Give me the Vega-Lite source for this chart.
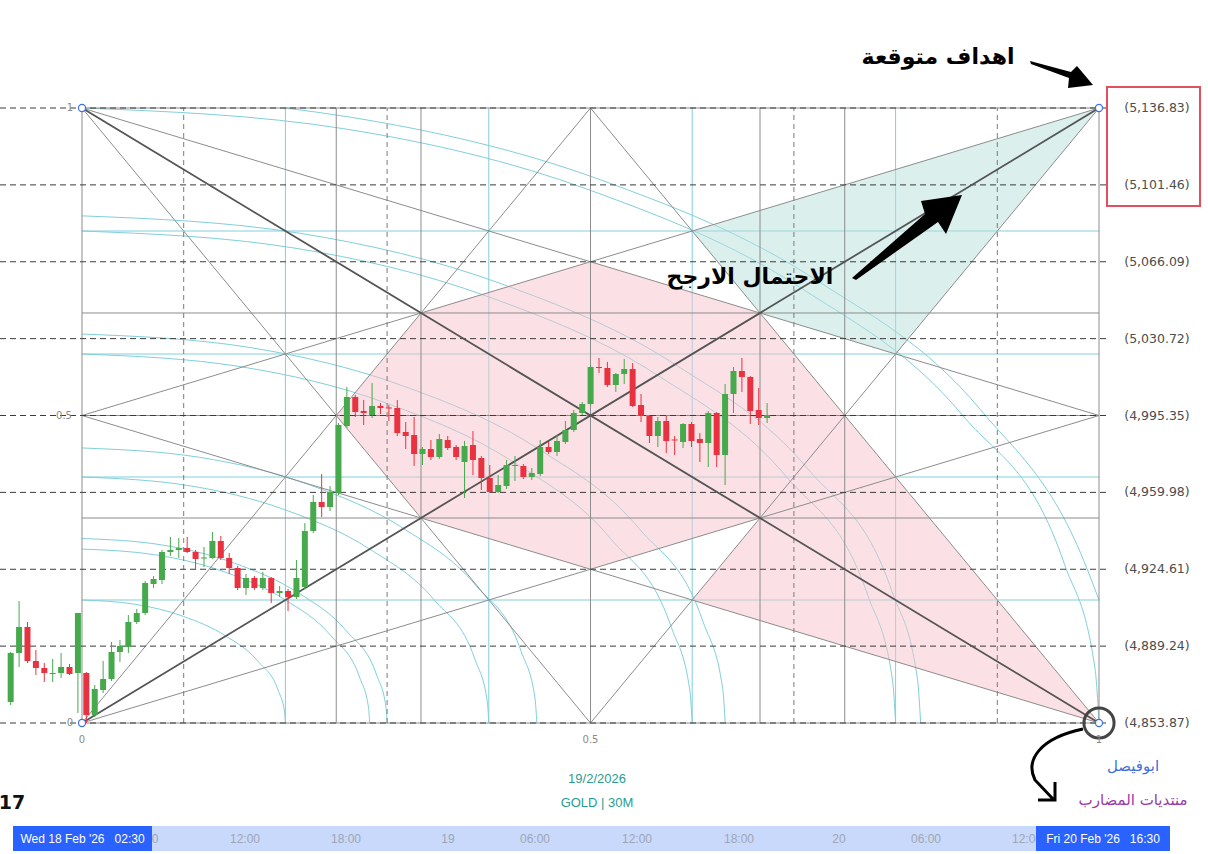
{
"$schema": "https://vega.github.io/schema/vega-lite/v6.json",
"width": 1208, "height": 854, "padding": 0, "autosize": {"type": "none"},
"background": "#ffffff",
"config": {"view": {"stroke": null}},
"resolve": {"scale": {"x": "independent", "y": "independent"}},
"layer": [
{"data": {"values": [
 {"u":0,"u2":1,"v":0.2,"v2":0.2},{"u":0,"u2":1,"v":0.4,"v2":0.4},{"u":0,"u2":1,"v":0.6,"v2":0.6},{"u":0,"u2":1,"v":0.8,"v2":0.8},
 {"u":0.2,"u2":0.2,"v":0,"v2":1},{"u":0.4,"u2":0.4,"v":0,"v2":1},{"u":0.6,"u2":0.6,"v":0,"v2":1},{"u":0.8,"u2":0.8,"v":0,"v2":1}]},
 "mark": {"type": "rule", "color": "#80cfda", "strokeWidth": 1},
 "encoding": {"x": {"field":"u","type":"quantitative","scale":{"domain":[-0.080629,1.107178],"nice":false,"zero":false},"axis":null},"x2":{"field":"u2"},
  "y": {"field":"v","type":"quantitative","scale":{"domain":[-0.213008,1.17561],"nice":false,"zero":false},"axis":null},"y2":{"field":"v2"}}},
{"data": {"values": [
 {"r":"a1","u":0.2,"v":0},{"r":"a1","u":0.19924,"v":0.01743},{"r":"a1","u":0.19319,"v":0.05176},{"r":"a1","u":0.17321,"v":0.1},{"r":"a1","u":0.14142,"v":0.14142},{"r":"a1","u":0.1,"v":0.17321},{"r":"a1","u":0.05176,"v":0.19319},{"r":"a1","u":0,"v":0.2},
 {"r":"a2","u":0.28284,"v":0},{"r":"a2","u":0.28176,"v":0.02465},{"r":"a2","u":0.27321,"v":0.07321},{"r":"a2","u":0.24495,"v":0.14142},{"r":"a2","u":0.2,"v":0.2},{"r":"a2","u":0.14142,"v":0.24495},{"r":"a2","u":0.07321,"v":0.27321},{"r":"a2","u":0,"v":0.28284},
 {"r":"a3","u":0.3,"v":0},{"r":"a3","u":0.29886,"v":0.02615},{"r":"a3","u":0.28978,"v":0.07765},{"r":"a3","u":0.25981,"v":0.15},{"r":"a3","u":0.21213,"v":0.21213},{"r":"a3","u":0.15,"v":0.25981},{"r":"a3","u":0.07765,"v":0.28978},{"r":"a3","u":0,"v":0.3},
 {"r":"a4","u":0.4,"v":0},{"r":"a4","u":0.39848,"v":0.03486},{"r":"a4","u":0.38637,"v":0.10353},{"r":"a4","u":0.34641,"v":0.2},{"r":"a4","u":0.28284,"v":0.28284},{"r":"a4","u":0.2,"v":0.34641},{"r":"a4","u":0.10353,"v":0.38637},{"r":"a4","u":0,"v":0.4},
 {"r":"a5","u":0.44721,"v":0},{"r":"a5","u":0.44551,"v":0.03898},{"r":"a5","u":0.43197,"v":0.11575},{"r":"a5","u":0.3873,"v":0.22361},{"r":"a5","u":0.31623,"v":0.31623},{"r":"a5","u":0.22361,"v":0.3873},{"r":"a5","u":0.11575,"v":0.43197},{"r":"a5","u":0,"v":0.44721},
 {"r":"a6","u":0.6,"v":0},{"r":"a6","u":0.59772,"v":0.05229},{"r":"a6","u":0.57956,"v":0.15529},{"r":"a6","u":0.51962,"v":0.3},{"r":"a6","u":0.42426,"v":0.42426},{"r":"a6","u":0.3,"v":0.51962},{"r":"a6","u":0.15529,"v":0.57956},{"r":"a6","u":0,"v":0.6},
 {"r":"a7","u":0.63246,"v":0},{"r":"a7","u":0.63005,"v":0.05512},{"r":"a7","u":0.61091,"v":0.16369},{"r":"a7","u":0.54773,"v":0.31623},{"r":"a7","u":0.44721,"v":0.44721},{"r":"a7","u":0.31623,"v":0.54773},{"r":"a7","u":0.16369,"v":0.61091},{"r":"a7","u":0,"v":0.63246},
 {"r":"a8","u":0.8,"v":0},{"r":"a8","u":0.79695,"v":0.06973},{"r":"a8","u":0.77274,"v":0.20706},{"r":"a8","u":0.69282,"v":0.4},{"r":"a8","u":0.56569,"v":0.56569},{"r":"a8","u":0.4,"v":0.69282},{"r":"a8","u":0.20706,"v":0.77274},{"r":"a8","u":0,"v":0.8},
 {"r":"a9","u":0.82462,"v":0},{"r":"a9","u":0.82148,"v":0.07187},{"r":"a9","u":0.79653,"v":0.21343},{"r":"a9","u":0.71414,"v":0.41231},{"r":"a9","u":0.5831,"v":0.5831},{"r":"a9","u":0.41231,"v":0.71414},{"r":"a9","u":0.21343,"v":0.79653},{"r":"a9","u":0,"v":0.82462},
 {"r":"b1","u":1,"v":0},{"r":"b1","u":0.99619,"v":0.08716},{"r":"b1","u":0.96593,"v":0.25882},{"r":"b1","u":0.86603,"v":0.5},{"r":"b1","u":0.70711,"v":0.70711},{"r":"b1","u":0.5,"v":0.86603},{"r":"b1","u":0.25882,"v":0.96593},{"r":"b1","u":0,"v":1},
 {"r":"b2","u":1,"v":0.2},{"r":"b2","u":0.98506,"v":0.26394},{"r":"b2","u":0.88318,"v":0.5099},{"r":"b2","u":0.72111,"v":0.72111},{"r":"b2","u":0.5099,"v":0.88318},{"r":"b2","u":0.26394,"v":0.98506},{"r":"b2","u":0.2,"v":1}]},
 "mark": {"type": "line", "color": "#80cfda", "strokeWidth": 1, "interpolate": "monotone"},
 "encoding": {"x": {"field":"u","type":"quantitative","scale":{"domain":[-0.080629,1.107178],"nice":false,"zero":false},"axis":null},
  "y": {"field":"v","type":"quantitative","scale":{"domain":[-0.213008,1.17561],"nice":false,"zero":false},"axis":null},
  "detail": {"field":"r"}}},
{"data": {"values": [
 {"piece":"a","u":0.25,"lo":0.5,"hi":0.5},{"piece":"a","u":0.33333,"lo":0.33333,"hi":0.66667},{"piece":"a","u":0.5,"lo":0.25,"hi":0.75},{"piece":"a","u":0.66667,"lo":0.33333,"hi":0.66667},{"piece":"a","u":0.75,"lo":0.5,"hi":0.5},
 {"piece":"b","u":0.6,"lo":0.2,"hi":0.2},{"piece":"b","u":0.75,"lo":0.125,"hi":0.5},{"piece":"b","u":1,"lo":0,"hi":0}]},
 "mark": {"type": "area", "color": "#f7c4cb", "opacity": 0.5, "orient": "vertical"},
 "encoding": {"x": {"field":"u","type":"quantitative","scale":{"domain":[-0.080629,1.107178],"nice":false,"zero":false},"axis":null},
  "y": {"field":"lo","type":"quantitative","scale":{"domain":[-0.213008,1.17561],"nice":false,"zero":false},"axis":null},"y2":{"field":"hi"},
  "detail": {"field":"piece"}}},
{"data": {"values": [
 {"u":0.6,"lo":0.8,"hi":0.8},{"u":0.66667,"lo":0.66667,"hi":0.83333},{"u":0.8,"lo":0.6,"hi":0.9},{"u":1,"lo":1,"hi":1}]},
 "mark": {"type": "area", "color": "#b7dfdb", "opacity": 0.5, "orient": "vertical"},
 "encoding": {"x": {"field":"u","type":"quantitative","scale":{"domain":[-0.080629,1.107178],"nice":false,"zero":false},"axis":null},
  "y": {"field":"lo","type":"quantitative","scale":{"domain":[-0.213008,1.17561],"nice":false,"zero":false},"axis":null},"y2":{"field":"hi"}}},
{"data": {"values": [
 {"u":0,"u2":1,"v":0,"v2":0},{"u":0,"u2":1,"v":0.33333,"v2":0.33333},{"u":0,"u2":1,"v":0.5,"v2":0.5},{"u":0,"u2":1,"v":0.66667,"v2":0.66667},{"u":0,"u2":1,"v":1,"v2":1},
 {"u":0,"u2":0,"v":0,"v2":1},{"u":0.25,"u2":0.25,"v":0,"v2":1},{"u":0.33333,"u2":0.33333,"v":0,"v2":1},{"u":0.5,"u2":0.5,"v":0,"v2":1},{"u":0.66667,"u2":0.66667,"v":0,"v2":1},{"u":0.75,"u2":0.75,"v":0,"v2":1},{"u":1,"u2":1,"v":0,"v2":1},
 {"u":0,"u2":1,"v":0,"v2":0.5},{"u":0,"u2":0.5,"v":0,"v2":1},{"u":0,"u2":1,"v":1,"v2":0.5},{"u":0,"u2":0.5,"v":1,"v2":0},
 {"u":1,"u2":0,"v":1,"v2":0.5},{"u":1,"u2":0.5,"v":1,"v2":0},{"u":1,"u2":0,"v":0,"v2":0.5},{"u":1,"u2":0.5,"v":0,"v2":1}]},
 "mark": {"type": "rule", "color": "#8c8c8c", "strokeWidth": 1},
 "encoding": {"x": {"field":"u","type":"quantitative","scale":{"domain":[-0.080629,1.107178],"nice":false,"zero":false},"axis":null},"x2":{"field":"u2"},
  "y": {"field":"v","type":"quantitative","scale":{"domain":[-0.213008,1.17561],"nice":false,"zero":false},"axis":null},"y2":{"field":"v2"}}},
{"data": {"values": [
 {"u":0.1,"u2":0.1,"v":0,"v2":1},{"u":0.3,"u2":0.3,"v":0,"v2":1},{"u":0.7,"u2":0.7,"v":0,"v2":1},{"u":0.9,"u2":0.9,"v":0,"v2":1}]},
 "mark": {"type": "rule", "color": "#7a7a7a", "strokeWidth": 1, "strokeDash": [5, 4]},
 "encoding": {"x": {"field":"u","type":"quantitative","scale":{"domain":[-0.080629,1.107178],"nice":false,"zero":false},"axis":null},"x2":{"field":"u2"},
  "y": {"field":"v","type":"quantitative","scale":{"domain":[-0.213008,1.17561],"nice":false,"zero":false},"axis":null},"y2":{"field":"v2"}}},
{"data": {"values": [
 {"u":-0.080629,"u2":1.0079,"v":0,"v2":0},{"u":-0.080629,"u2":1.0079,"v":0.125,"v2":0.125},{"u":-0.080629,"u2":1.0079,"v":0.25,"v2":0.25},{"u":-0.080629,"u2":1.0079,"v":0.375,"v2":0.375},{"u":-0.080629,"u2":1.0079,"v":0.5,"v2":0.5},
 {"u":-0.080629,"u2":1.0079,"v":0.625,"v2":0.625},{"u":-0.080629,"u2":1.0079,"v":0.75,"v2":0.75},{"u":-0.080629,"u2":1.0079,"v":0.875,"v2":0.875},{"u":-0.080629,"u2":1.0079,"v":1,"v2":1}]},
 "mark": {"type": "rule", "color": "#3c3c3c", "strokeWidth": 1, "strokeDash": [6, 4]},
 "encoding": {"x": {"field":"u","type":"quantitative","scale":{"domain":[-0.080629,1.107178],"nice":false,"zero":false},"axis":null},"x2":{"field":"u2"},
  "y": {"field":"v","type":"quantitative","scale":{"domain":[-0.213008,1.17561],"nice":false,"zero":false},"axis":null},"y2":{"field":"v2"}}},
{"data": {"values": [{"u":0,"u2":1,"v":0,"v2":1},{"u":0,"u2":1,"v":1,"v2":0}]},
 "mark": {"type": "rule", "color": "#545454", "strokeWidth": 1.8},
 "encoding": {"x": {"field":"u","type":"quantitative","scale":{"domain":[-0.080629,1.107178],"nice":false,"zero":false},"axis":null},"x2":{"field":"u2"},
  "y": {"field":"v","type":"quantitative","scale":{"domain":[-0.213008,1.17561],"nice":false,"zero":false},"axis":null},"y2":{"field":"v2"}}},
{"layer": [
 {"mark": {"type": "rule", "strokeWidth": 1},
  "encoding": {"x": {"field":"i","type":"quantitative","scale":{"domain":[-9.6755,132.8614],"nice":false,"zero":false},"axis":null},
   "y": {"field":"low","type":"quantitative","scale":{"domain":[4793.6,5186.52],"nice":false,"zero":false},"axis":null},"y2":{"field":"high"},
   "color": {"condition": {"test": "datum.close >= datum.open", "value": "#46a94c"}, "value": "#e8323f"}}},
 {"mark": {"type": "bar", "size": 6},
  "encoding": {"x": {"field":"i","type":"quantitative","scale":{"domain":[-9.6755,132.8614],"nice":false,"zero":false},"axis":null},
   "y": {"field":"open","type":"quantitative","scale":{"domain":[4793.6,5186.52],"nice":false,"zero":false},"axis":null},"y2":{"field":"close"},
   "color": {"condition": {"test": "datum.close >= datum.open", "value": "#46a94c"}, "value": "#e8323f"}}}],
 "data": {"values": [
 {"i":-9,"open":4863.53,"high":4886.54,"low":4862.15,"close":4886.08},
 {"i":-8,"open":4886.08,"high":4910.0,"low":4879.64,"close":4898.04},
 {"i":-7,"open":4898.04,"high":4900.34,"low":4881.48,"close":4882.4},
 {"i":-6,"open":4882.4,"high":4887.46,"low":4875.95,"close":4879.18},
 {"i":-5,"open":4879.18,"high":4881.48,"low":4872.73,"close":4876.88},
 {"i":-4,"open":4876.41,"high":4883.32,"low":4872.73,"close":4876.88},
 {"i":-3,"open":4876.88,"high":4886.08,"low":4874.57,"close":4879.64},
 {"i":-2,"open":4879.64,"high":4881.02,"low":4875.95,"close":4876.41},
 {"i":-1,"open":4876.88,"high":4904.48,"low":4858.47,"close":4904.48},
 {"i":0,"open":4876.88,"high":4877.3,"low":4853.87,"close":4857.55},
 {"i":1,"open":4857.55,"high":4871.35,"low":4856.63,"close":4869.51},
 {"i":2,"open":4869.05,"high":4882.4,"low":4867.67,"close":4874.11},
 {"i":3,"open":4874.11,"high":4891.14,"low":4873.19,"close":4886.54},
 {"i":4,"open":4886.54,"high":4892.06,"low":4881.94,"close":4889.3},
 {"i":5,"open":4888.84,"high":4903.56,"low":4886.08,"close":4900.34},
 {"i":6,"open":4900.34,"high":4906.32,"low":4899.42,"close":4904.48},
 {"i":7,"open":4904.48,"high":4919.2,"low":4903.56,"close":4918.28},
 {"i":8,"open":4917.82,"high":4921.5,"low":4915.98,"close":4920.12},
 {"i":9,"open":4919.66,"high":4933.47,"low":4917.82,"close":4932.55},
 {"i":10,"open":4932.55,"high":4939.45,"low":4930.71,"close":4933.47},
 {"i":11,"open":4933.47,"high":4938.99,"low":4929.79,"close":4934.39},
 {"i":12,"open":4934.39,"high":4939.45,"low":4932.1,"close":4932.55},
 {"i":13,"open":4932.55,"high":4933.47,"low":4924.27,"close":4929.33},
 {"i":14,"open":4929.56,"high":4934.85,"low":4925.65,"close":4930.02},
 {"i":15,"open":4929.79,"high":4941.75,"low":4929.33,"close":4937.61},
 {"i":16,"open":4937.61,"high":4939.91,"low":4928.87,"close":4929.79},
 {"i":17,"open":4929.79,"high":4932.09,"low":4922.43,"close":4925.19},
 {"i":18,"open":4925.19,"high":4926.1,"low":4915.06,"close":4915.98},
 {"i":19,"open":4915.98,"high":4922.43,"low":4912.76,"close":4920.58},
 {"i":20,"open":4920.58,"high":4921.5,"low":4915.06,"close":4915.98},
 {"i":21,"open":4915.98,"high":4923.35,"low":4915.06,"close":4920.58},
 {"i":22,"open":4920.58,"high":4921.04,"low":4909.08,"close":4913.68},
 {"i":23,"open":4913.68,"high":4916.9,"low":4911.84,"close":4914.6},
 {"i":24,"open":4914.6,"high":4915.52,"low":4905.4,"close":4911.84},
 {"i":25,"open":4911.84,"high":4928.87,"low":4910.92,"close":4920.58},
 {"i":26,"open":4916.44,"high":4945.89,"low":4915.52,"close":4942.21},
 {"i":27,"open":4942.21,"high":4958.77,"low":4941.29,"close":4955.55},
 {"i":28,"open":4955.55,"high":4968.44,"low":4948.65,"close":4953.25},
 {"i":29,"open":4953.25,"high":4962.91,"low":4951.41,"close":4960.15},
 {"i":30,"open":4959.69,"high":4991.9,"low":4958.77,"close":4990.98},
 {"i":31,"open":4990.52,"high":5008.47,"low":4989.6,"close":5003.86},
 {"i":32,"open":5003.86,"high":5004.8,"low":4994.66,"close":4996.96},
 {"i":33,"open":4997.42,"high":5002.48,"low":4990.98,"close":4996.5},
 {"i":34,"open":4995.58,"high":5010.3,"low":4994.2,"close":4999.72},
 {"i":35,"open":4999.72,"high":5001.1,"low":4996.04,"close":4998.8},
 {"i":36,"open":4999.03,"high":5000.18,"low":4992.82,"close":4998.57},
 {"i":37,"open":4998.8,"high":5002.48,"low":4985.92,"close":4987.3},
 {"i":38,"open":4987.76,"high":4992.36,"low":4979.94,"close":4985.92},
 {"i":39,"open":4986.38,"high":4994.66,"low":4972.11,"close":4977.64},
 {"i":40,"open":4977.64,"high":4980.86,"low":4972.57,"close":4979.94},
 {"i":41,"open":4979.94,"high":4984.08,"low":4974.88,"close":4976.26},
 {"i":42,"open":4976.26,"high":4986.84,"low":4975.34,"close":4984.54},
 {"i":43,"open":4984.08,"high":4985.92,"low":4979.48,"close":4980.4},
 {"i":44,"open":4980.86,"high":4981.78,"low":4974.88,"close":4976.26},
 {"i":45,"open":4973.96,"high":4983.62,"low":4957.39,"close":4981.32},
 {"i":46,"open":4981.78,"high":4988.22,"low":4967.97,"close":4974.88},
 {"i":47,"open":4975.8,"high":4976.72,"low":4961.07,"close":4966.59},
 {"i":48,"open":4966.59,"high":4972.57,"low":4959.69,"close":4960.15},
 {"i":49,"open":4960.15,"high":4967.97,"low":4959.69,"close":4963.37},
 {"i":50,"open":4962.91,"high":4974.88,"low":4961.53,"close":4972.57},
 {"i":51,"open":4972.11,"high":4976.72,"low":4965.21,"close":4972.57},
 {"i":52,"open":4972.11,"high":4973.0,"low":4966.1,"close":4967.05},
 {"i":53,"open":4967.05,"high":4971.19,"low":4965.67,"close":4968.89},
 {"i":54,"open":4968.43,"high":4984.08,"low":4967.5,"close":4980.86},
 {"i":55,"open":4980.86,"high":4983.16,"low":4977.64,"close":4978.56},
 {"i":56,"open":4978.56,"high":4986.38,"low":4976.72,"close":4983.62},
 {"i":57,"open":4983.16,"high":4992.82,"low":4982.24,"close":4988.68},
 {"i":58,"open":4988.68,"high":4997.88,"low":4987.76,"close":4996.5},
 {"i":59,"open":4996.5,"high":5001.56,"low":4995.58,"close":5000.64},
 {"i":60,"open":5000.64,"high":5018.59,"low":4999.72,"close":5017.67},
 {"i":61,"open":5017.67,"high":5021.81,"low":5014.91,"close":5017.2},
 {"i":62,"open":5017.2,"high":5019.97,"low":5008.47,"close":5009.39},
 {"i":63,"open":5009.39,"high":5014.9,"low":5006.17,"close":5014.45},
 {"i":64,"open":5014.45,"high":5021.35,"low":5009.85,"close":5016.75},
 {"i":65,"open":5016.75,"high":5019.51,"low":4999.26,"close":4999.72},
 {"i":66,"open":5000.18,"high":5005.24,"low":4992.36,"close":4995.12},
 {"i":67,"open":4995.12,"high":4995.5,"low":4982.7,"close":4985.92},
 {"i":68,"open":4985.92,"high":4994.66,"low":4980.86,"close":4992.82},
 {"i":69,"open":4992.82,"high":4995.12,"low":4978.1,"close":4983.62},
 {"i":70,"open":4984.31,"high":4985.92,"low":4977.18,"close":4983.85},
 {"i":71,"open":4983.16,"high":4991.9,"low":4980.4,"close":4991.44},
 {"i":72,"open":4991.44,"high":4992.36,"low":4980.86,"close":4983.62},
 {"i":73,"open":4984.54,"high":4987.3,"low":4973.96,"close":4982.7},
 {"i":74,"open":4982.7,"high":4997.42,"low":4971.65,"close":4996.5},
 {"i":75,"open":4996.5,"high":4996.9,"low":4971.65,"close":4977.18},
 {"i":76,"open":4977.18,"high":5009.85,"low":4963.37,"close":5005.24},
 {"i":77,"open":5005.24,"high":5017.67,"low":4996.5,"close":5015.83},
 {"i":78,"open":5015.83,"high":5021.81,"low":5006.17,"close":5013.07},
 {"i":79,"open":5013.07,"high":5013.5,"low":4991.44,"close":4997.42},
 {"i":80,"open":4997.88,"high":5008.01,"low":4990.98,"close":4994.2},
 {"i":81,"open":4994.2,"high":5001.1,"low":4991.9,"close":4995.58}]}},
{"data": {"values": [{"u":0,"v":0},{"u":0,"v":1},{"u":1,"v":1},{"u":1,"v":0}]},
 "mark": {"type": "point", "shape": "circle", "size": 50, "filled": true, "fill": "#ffffff", "stroke": "#3d6fe0", "strokeWidth": 1.2, "opacity": 1},
 "encoding": {"x": {"field":"u","type":"quantitative","scale":{"domain":[-0.080629,1.107178],"nice":false,"zero":false},"axis":null},
  "y": {"field":"v","type":"quantitative","scale":{"domain":[-0.213008,1.17561],"nice":false,"zero":false},"axis":null}}},
{"data": {"values": [{"u":1,"v":0}]},
 "mark": {"type": "point", "shape": "circle", "size": 908, "filled": false, "stroke": "#454545", "strokeWidth": 3, "opacity": 1},
 "encoding": {"x": {"field":"u","type":"quantitative","scale":{"domain":[-0.080629,1.107178],"nice":false,"zero":false},"axis":null},
  "y": {"field":"v","type":"quantitative","scale":{"domain":[-0.213008,1.17561],"nice":false,"zero":false},"axis":null}}},
{"data": {"values": [
 {"v":0,"t":"(4,853.87)"},{"v":0.125,"t":"(4,889.24)"},{"v":0.25,"t":"(4,924.61)"},{"v":0.375,"t":"(4,959.98)"},{"v":0.5,"t":"(4,995.35)"},
 {"v":0.625,"t":"(5,030.72)"},{"v":0.75,"t":"(5,066.09)"},{"v":0.875,"t":"(5,101.46)"},{"v":1,"t":"(5,136.83)"}]},
 "mark": {"type": "text", "font": "DejaVu Sans", "fontSize": 12.5, "color": "#4d4d4d", "align": "center", "baseline": "middle"},
 "encoding": {"x": {"datum": 1.057, "type":"quantitative","scale":{"domain":[-0.080629,1.107178],"nice":false,"zero":false},"axis":null},
  "y": {"field":"v","type":"quantitative","scale":{"domain":[-0.213008,1.17561],"nice":false,"zero":false},"axis":null},
  "text": {"field":"t"}}},
{"data": {"values": [
 {"u":-0.0118,"v":1,"t":"1"},{"u":-0.0177,"v":0.5,"t":"0.5"},{"u":-0.0118,"v":0,"t":"0"},
 {"u":0,"v":-0.0276,"t":"0"},{"u":0.5,"v":-0.0276,"t":"0.5"},{"u":1,"v":-0.0276,"t":"1"}]},
 "mark": {"type": "text", "font": "DejaVu Sans", "fontSize": 10, "color": "#8a8a8a", "align": "center", "baseline": "middle"},
 "encoding": {"x": {"field":"u","type":"quantitative","scale":{"domain":[-0.080629,1.107178],"nice":false,"zero":false},"axis":null},
  "y": {"field":"v","type":"quantitative","scale":{"domain":[-0.213008,1.17561],"nice":false,"zero":false},"axis":null},
  "text": {"field":"t"}}},
{"data": {"values": [{"u":1.00787,"u2":1.09931,"v":1.03415,"v2":0.84065}]},
 "mark": {"type": "rect", "fill": null, "fillOpacity": 0, "stroke": "#e0505f", "strokeWidth": 2},
 "encoding": {"x": {"field":"u","type":"quantitative","scale":{"domain":[-0.080629,1.107178],"nice":false,"zero":false},"axis":null},"x2":{"field":"u2"},
  "y": {"field":"v","type":"quantitative","scale":{"domain":[-0.213008,1.17561],"nice":false,"zero":false},"axis":null},"y2":{"field":"v2"}}},
{"data": {"values": [{"u":0,"u2":1.002,"v":-0.16748,"v2":-0.20813}]},
 "mark": {"type": "rect", "color": "#c8d9fb"},
 "encoding": {"x": {"field":"u","type":"quantitative","scale":{"domain":[-0.080629,1.107178],"nice":false,"zero":false},"axis":null},"x2":{"field":"u2"},
  "y": {"field":"v","type":"quantitative","scale":{"domain":[-0.213008,1.17561],"nice":false,"zero":false},"axis":null},"y2":{"field":"v2"}}},
{"data": {"values": [
 {"u":0.0718,"t":"0"},{"u":0.1603,"t":"12:00"},{"u":0.2596,"t":"18:00"},{"u":0.3599,"t":"19"},{"u":0.4454,"t":"06:00"},
 {"u":0.5457,"t":"12:00"},{"u":0.646,"t":"18:00"},{"u":0.7443,"t":"20"},{"u":0.8299,"t":"06:00"},{"u":0.9292,"t":"12:00"}]},
 "mark": {"type": "text", "font": "Liberation Sans", "fontSize": 12, "color": "#9ea6b4", "align": "center", "baseline": "middle"},
 "encoding": {"x": {"field":"u","type":"quantitative","scale":{"domain":[-0.080629,1.107178],"nice":false,"zero":false},"axis":null},
  "y": {"datum": -0.18862, "type":"quantitative","scale":{"domain":[-0.213008,1.17561],"nice":false,"zero":false},"axis":null},
  "text": {"field":"t"}}},
{"data": {"values": [{"u":-0.06785,"u2":0.06883,"v":-0.16748,"v2":-0.20813},{"u":0.93805,"u2":1.06981,"v":-0.16748,"v2":-0.20813}]},
 "mark": {"type": "rect", "color": "#2962ff"},
 "encoding": {"x": {"field":"u","type":"quantitative","scale":{"domain":[-0.080629,1.107178],"nice":false,"zero":false},"axis":null},"x2":{"field":"u2"},
  "y": {"field":"v","type":"quantitative","scale":{"domain":[-0.213008,1.17561],"nice":false,"zero":false},"axis":null},"y2":{"field":"v2"}}},
{"data": {"values": [{"u":0.00049,"t":"Wed 18 Feb '26\u00a0\u00a0\u00a002:30"},{"u":1.00393,"t":"Fri 20 Feb '26\u00a0\u00a0\u00a016:30"}]},
 "mark": {"type": "text", "font": "Liberation Sans", "fontSize": 12, "color": "#ffffff", "align": "center", "baseline": "middle"},
 "encoding": {"x": {"field":"u","type":"quantitative","scale":{"domain":[-0.080629,1.107178],"nice":false,"zero":false},"axis":null},
  "y": {"datum": -0.18862, "type":"quantitative","scale":{"domain":[-0.213008,1.17561],"nice":false,"zero":false},"axis":null},
  "text": {"field":"t"}}},
{"data": {"values": [{"u":0.5064,"v":-0.09106,"t":"19/2/2026"},{"u":0.5064,"v":-0.13008,"t":"GOLD | 30M"}]},
 "mark": {"type": "text", "font": "Liberation Sans", "fontSize": 13, "color": "#2a9d8f", "align": "center", "baseline": "middle"},
 "encoding": {"x": {"field":"u","type":"quantitative","scale":{"domain":[-0.080629,1.107178],"nice":false,"zero":false},"axis":null},
  "y": {"field":"v","type":"quantitative","scale":{"domain":[-0.213008,1.17561],"nice":false,"zero":false},"axis":null},
  "text": {"field":"t"}}},
{"data": {"values": [{"u":-0.0688,"v":-0.1301,"t":"17"}]},
 "mark": {"type": "text", "font": "DejaVu Sans", "fontSize": 19, "fontWeight": "bold", "color": "#111111", "align": "center", "baseline": "middle"},
 "encoding": {"x": {"field":"u","type":"quantitative","scale":{"domain":[-0.080629,1.107178],"nice":false,"zero":false},"axis":null},
  "y": {"field":"v","type":"quantitative","scale":{"domain":[-0.213008,1.17561],"nice":false,"zero":false},"axis":null},
  "text": {"field":"t"}}},
{"data": {"values": [{"u":0.8417,"v":1.08293,"t":"اهداف متوقعة"},{"u":0.6568,"v":0.7252,"t":"الاحتمال الارجح"}]},
 "mark": {"type": "text", "font": "DejaVu Sans", "fontSize": 22, "fontWeight": "bold", "color": "#000000", "align": "center", "baseline": "middle"},
 "encoding": {"x": {"field":"u","type":"quantitative","scale":{"domain":[-0.080629,1.107178],"nice":false,"zero":false},"axis":null},
  "y": {"field":"v","type":"quantitative","scale":{"domain":[-0.213008,1.17561],"nice":false,"zero":false},"axis":null},
  "text": {"field":"t"}}},
{"data": {"values": [{"u":1.03343,"v":-0.06992,"t":"ابوفيصل"}]},
 "mark": {"type": "text", "font": "DejaVu Sans", "fontSize": 15, "color": "#3f6fd8", "align": "center", "baseline": "middle"},
 "encoding": {"x": {"field":"u","type":"quantitative","scale":{"domain":[-0.080629,1.107178],"nice":false,"zero":false},"axis":null},
  "y": {"field":"v","type":"quantitative","scale":{"domain":[-0.213008,1.17561],"nice":false,"zero":false},"axis":null},
  "text": {"field":"t"}}},
{"data": {"values": [{"u":1.03343,"v":-0.1252,"t":"منتديات المضارب"}]},
 "mark": {"type": "text", "font": "DejaVu Sans", "fontSize": 15, "color": "#9b3aa8", "align": "center", "baseline": "middle"},
 "encoding": {"x": {"field":"u","type":"quantitative","scale":{"domain":[-0.080629,1.107178],"nice":false,"zero":false},"axis":null},
  "y": {"field":"v","type":"quantitative","scale":{"domain":[-0.213008,1.17561],"nice":false,"zero":false},"axis":null},
  "text": {"field":"t"}}},
{"data": {"values": [{"u":0.96165,"v":1.05366}]},
 "mark": {"type": "point", "shape": "M -30 -14 L 11 -3 L 17 -9 L 33 10 L 8 13 L 9 3 L -29 -11 Z", "size": 4, "filled": true, "fill": "#000000", "strokeWidth": 0, "opacity": 1},
 "encoding": {"x": {"field":"u","type":"quantitative","scale":{"domain":[-0.080629,1.107178],"nice":false,"zero":false},"axis":null},
  "y": {"field":"v","type":"quantitative","scale":{"domain":[-0.213008,1.17561],"nice":false,"zero":false},"axis":null}}},
{"data": {"values": [{"u":0.81121,"v":0.79024}]},
 "mark": {"type": "point", "shape": "M -55 41 L 18 -23 L 14 -36 L 55 -42 L 39 -3 L 31 -15 L -51 43 Z", "size": 4, "filled": true, "fill": "#000000", "strokeWidth": 0, "opacity": 1},
 "encoding": {"x": {"field":"u","type":"quantitative","scale":{"domain":[-0.080629,1.107178],"nice":false,"zero":false},"axis":null},
  "y": {"field":"v","type":"quantitative","scale":{"domain":[-0.213008,1.17561],"nice":false,"zero":false},"axis":null}}},
{"data": {"values": [{"u":0.95182,"v":-0.06829}]},
 "mark": {"type": "point", "shape": "M 33 -36 C -10 -27 -25 -5 -15 15 L 3 34 M -12 35 L 5 35 L 5 17", "size": 4, "filled": false, "stroke": "#000000", "strokeWidth": 3, "opacity": 1},
 "encoding": {"x": {"field":"u","type":"quantitative","scale":{"domain":[-0.080629,1.107178],"nice":false,"zero":false},"axis":null},
  "y": {"field":"v","type":"quantitative","scale":{"domain":[-0.213008,1.17561],"nice":false,"zero":false},"axis":null}}}
]
}
